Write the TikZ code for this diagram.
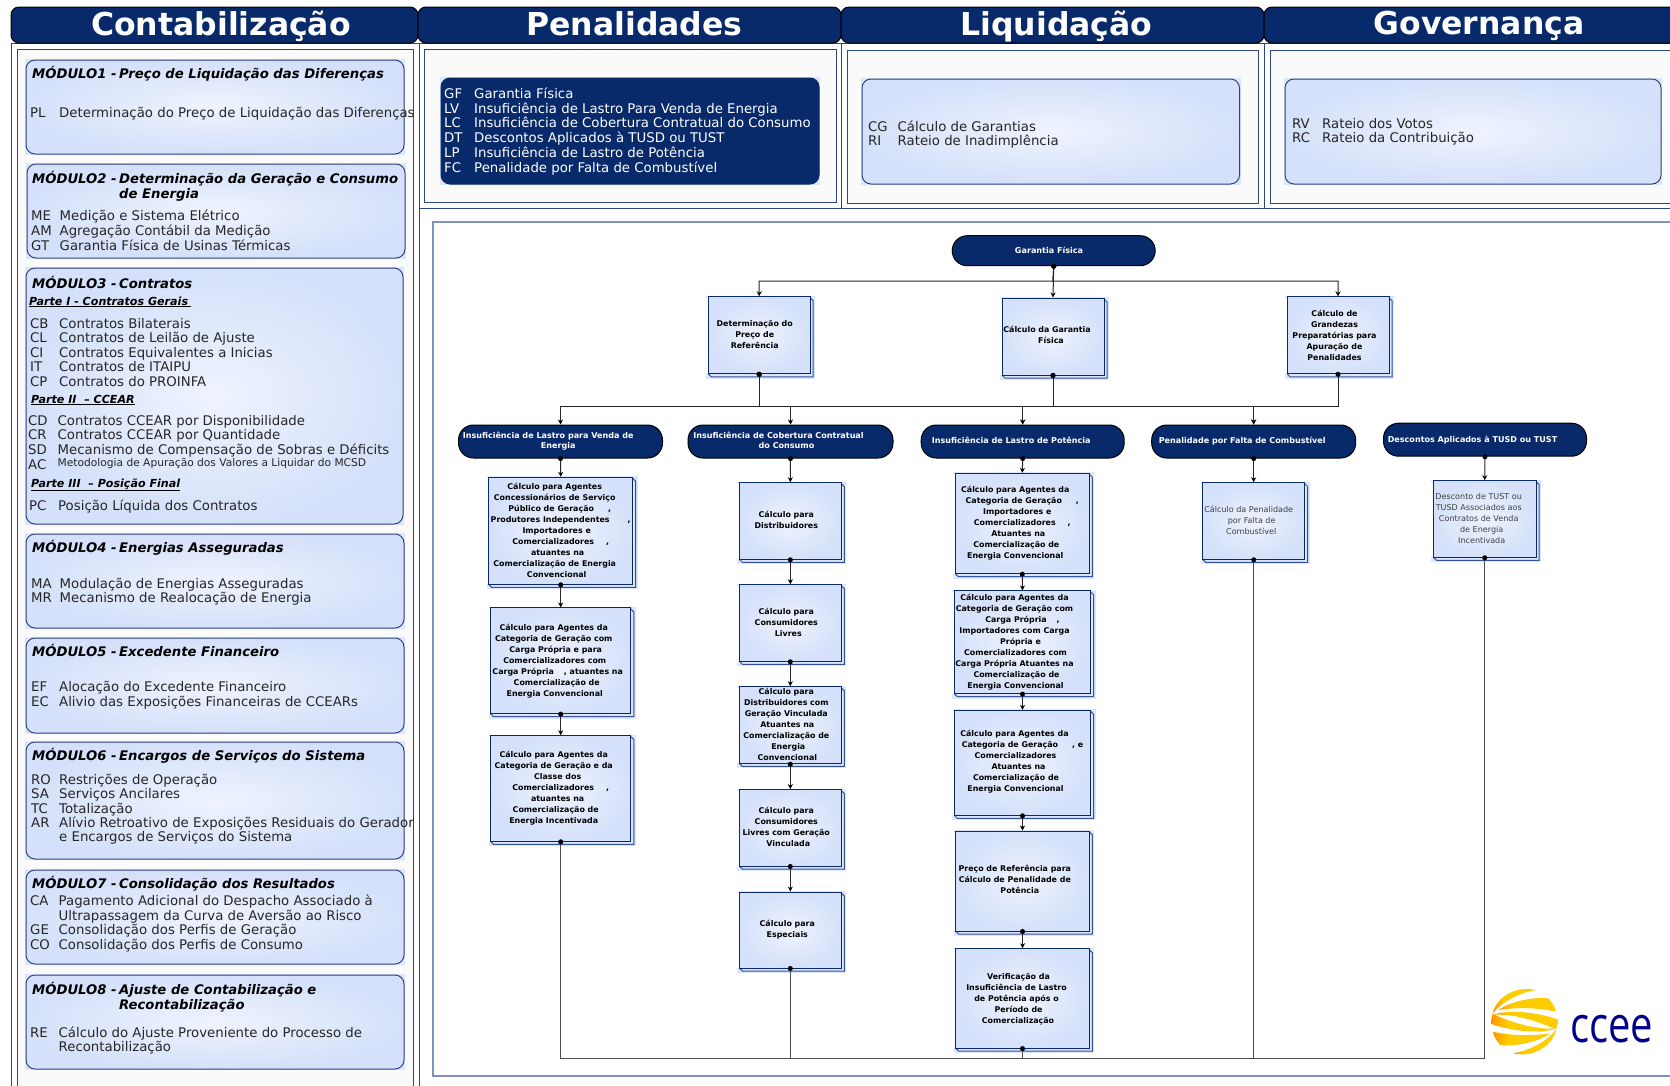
\documentclass[tikz,border=0pt]{standalone}
\usepackage{fontspec}
\setmainfont{DejaVu Sans}
\newfontfamily\logofont{Open Sans}
\usetikzlibrary{arrows.meta,calc}
\definecolor{navy}{HTML}{082A6B}
\definecolor{panelline}{HTML}{2C4583}
\definecolor{softline}{HTML}{7F93BE}
\definecolor{panelfill}{HTML}{FAFAFA}
\definecolor{shadein}{HTML}{EEF3FE}
\definecolor{shadeout}{HTML}{D5E1FA}
\definecolor{backfill}{HTML}{DCE6FB}
\definecolor{depthline}{HTML}{34529A}
\definecolor{logoyellow}{HTML}{FFCC00}
\definecolor{logoorange}{HTML}{FF9500}
\definecolor{logoblue}{HTML}{00008C}
\pgfdeclarehorizontalshading{logoshade}{100bp}{color(0bp)=(logoorange); color(25bp)=(logoorange); color(38bp)=(logoyellow); color(100bp)=(logoyellow)}
\newcounter{rowc}
\tikzset{
  outerpanel/.style={draw=panelline,line width=1pt,fill=white},
  innerpanel/.style={draw=panelline,line width=1pt,fill=panelfill},
  headbar/.style={draw=black,line width=1pt,fill=navy,rounded corners=8pt,inner sep=0pt,text=white,font=\fontsize{31.5}{33}\selectfont\bfseries},
  softcard/.style={draw=panelline,line width=1pt,rounded corners=9pt,shading=radial,inner color=shadein,outer color=shadeout,inner sep=0pt},
  darkcard/.style={draw=navy,line width=1pt,rounded corners=9pt,fill=navy,inner sep=0pt},
  modtext/.style={anchor=base west,inner sep=0pt,text=black!85,font=\fontsize{13.3}{14}\selectfont},
  modwhite/.style={modtext,text=white},
  modtitle/.style={anchor=base west,inner sep=0pt,text=black,font=\fontsize{13.2}{14}\selectfont\bfseries\itshape},
  parttitle/.style={anchor=base west,inner sep=0pt,text=black,font=\fontsize{11.1}{12}\selectfont\bfseries\itshape},
  smalltext/.style={anchor=base west,inner sep=0pt,text=black!85,font=\fontsize{10.65}{12}\selectfont},
  flowbox/.style={draw=navy,line width=1pt,shading=radial,inner color=shadein,outer color=shadeout,inner sep=0pt,text=black,font=\fontsize{7.9}{11}\selectfont\bfseries},
  flowplain/.style={font=\fontsize{8.05}{11}\selectfont,text=black!75},
  pill/.style={draw=black,line width=1pt,fill=navy,rounded corners=15pt,inner sep=0pt,text=white,font=\fontsize{8.05}{10}\selectfont\bfseries},
  boxback/.style={fill=backfill},
  boxdepth/.style={draw=depthline,line width=1pt},
  flow/.style={draw=black!85,line width=1pt,{Circle[length=5pt,width=5pt,black]}-{Stealth[length=5pt,width=5pt,black]},shorten <=-2.5pt},
  busline/.style={draw=black!70,line width=1pt,{Circle[length=5pt,width=5pt,black]}-,shorten <=-2.5pt},
}
\newcommand\TB[3]{\kern\dimexpr #1pt*2\relax\raisebox{\dimexpr #2pt-1pt\relax}[\height][\depth]{\begin{tabular}{@{}c@{}}#3\end{tabular}}}
\newcommand\G[1]{\hspace*{#1pt}}
\newcommand\FB[7]{%
  \pgfmathsetmacro\FBxa{#2-#4/2}\pgfmathsetmacro\FBxb{#2+#4/2}%
  \pgfmathsetmacro\FBya{#3-#5/2}\pgfmathsetmacro\FByb{#3+#5/2}%
  \fill[boxback] (\FBxa-2,\FBya-1) rectangle (\FBxb+5,\FBya+1);
  \fill[boxback] (\FBxb,\FBya) rectangle (\FBxb+5,\FByb+5);
  \fill[boxback] (\FBxa-2,\FByb) rectangle (\FBxb+5,\FByb+5);
  \draw[boxdepth] (\FBxb,\FBya+1) -- (\FBxb+3,\FBya+4) -- (\FBxb+3,\FByb+3) -- (\FBxa+3,\FByb+3) -- (\FBxa,\FByb);
  \node[flowbox,#6,minimum width=#4,minimum height=#5] (#1) at (#2,#3) {#7};
}
\newcommand\CardM[6][softcard]{%
  \fill[boxback] (#2-1,#3-1) rectangle (#4+1,#5+1);
  \pgfmathsetmacro\CMw{#4-#2}\pgfmathsetmacro\CMh{#5-#3}%
  \node[#1,minimum width=\CMw,minimum height=\CMh] (#6) at ({(#2+#4)/2},{(#3+#5)/2}) {};
}
\newcommand\RowT[6][modtext]{\stepcounter{rowc}\node[#1] (row\arabic{rowc}) at (#2,#3) {\makebox[#4pt][l]{#5}#6};}
\newcommand\TitleT[3]{\stepcounter{rowc}\node[modtitle] (row\arabic{rowc}) at (32,#1) {\makebox[87pt][l]{#2}#3};}
\newcommand\TitleL[2]{\stepcounter{rowc}\node[modtitle] (row\arabic{rowc}) at (119,#1) {#2};}
\newcommand\PartT[3]{\stepcounter{rowc}\node[parttitle] (row\arabic{rowc}) at (#1,#2) {\underline{#3}};}
\newcommand\LogoHalf{%
  \shade[shading=logoshade] (37,103) .. controls (45,60) and (90,28) .. (135,27) .. controls (148,27) and (158,28) .. (168,30) .. controls (110,40) and (60,70) .. (37,103) -- cycle;
  \shade[shading=logoshade] (55,90) .. controls (95,62) and (165,50) .. (205,55) .. controls (216,66) and (224,80) .. (228,95) .. controls (170,82) and (110,82) .. (55,90) -- cycle;
  \shade[shading=logoshade] (37,104) .. controls (90,88) and (170,96) .. (232,118) .. controls (233,128) and (232,138) .. (228,148) .. controls (160,118) and (100,102) .. (37,104) -- cycle;
}
\begin{document}
\begin{tikzpicture}[x=1pt,y=-1pt]
\useasboundingbox (0,0) rectangle (1670,1085);
\clip (0,0) rectangle (1670,1085);
\fill[white] (0,0) rectangle (1670,1085);
% panels
\path[outerpanel] (11,43) rectangle (419,1100);
\path[innerpanel] (17,49) rectangle (413,1100);
\path[outerpanel] (419,208) rectangle (1690,1100);
\path[draw=softline,line width=1.2pt,fill=white] (433,222) rectangle (1690,1076);
\path[outerpanel] (419,43) rectangle (841,208);
\path[innerpanel] (424,49) rectangle (836,202);
\path[outerpanel] (841,43) rectangle (1264,208);
\path[innerpanel] (847,50) rectangle (1258,203);
\path[outerpanel] (1264,43) rectangle (1690,208);
\path[innerpanel] (1270,50) rectangle (1690,203);
% headers
\node[headbar,minimum width=407,minimum height=36] (hc) at (214.5,25) {\TB{6.5}{-2}{Contabilização}};
\node[headbar,minimum width=423,minimum height=36] (hp) at (629.5,25) {\TB{5}{-2}{Penalidades}};
\node[headbar,minimum width=423,minimum height=36] (hl) at (1052.5,25) {\TB{4}{-2}{Liquidação}};
\node[headbar,minimum width=440,minimum height=36] (hg) at (1484,25) {\TB{-5}{-2}{Governança}};
% module cards
\CardM{26}{60}{404}{154}{m1}
\CardM{27}{164}{405}{258}{m2}
\CardM{26}{268}{403}{524}{m3}
\CardM{26}{534}{404}{628}{m4}
\CardM{26}{638}{404}{733}{m5}
\CardM{26}{742}{404}{859}{m6}
\CardM{26}{870}{404}{964}{m7}
\CardM{26}{975}{404}{1069}{m8}
% M1
\TitleT{78}{MÓDULO1 -}{Preço de Liquidação das Diferenças}
\RowT{30}{117}{29}{PL}{Determinação do Preço de Liquidação das Diferenças}
% M2
\TitleT{183}{MÓDULO2 -}{Determinação da Geração e Consumo}
\TitleL{198}{de Energia}
\RowT{31}{220}{28.5}{ME}{Medição e Sistema Elétrico}
\RowT{31}{235}{28.5}{AM}{Agregação Contábil da Medição}
\RowT{31}{250}{28.5}{GT}{Garantia Física de Usinas Térmicas}
% M3
\TitleT{288}{MÓDULO3 -}{Contratos}
\PartT{29}{305}{Parte I\ - Contratos Gerais\hspace{3pt}}
\RowT{30}{328}{29}{CB}{Contratos Bilaterais}
\RowT{30}{342}{29}{CL}{Contratos de Leilão de Ajuste}
\RowT{30}{357}{29}{CI}{Contratos Equivalentes a Inicias}
\RowT{30}{371}{29}{IT}{Contratos de ITAIPU}
\RowT{30}{386}{29}{CP}{Contratos do PROINFA}
\PartT{31}{403}{Parte II\ \ – CCEAR}
\RowT{28}{425}{29.5}{CD}{Contratos CCEAR por Disponibilidade}
\RowT{28}{439}{29.5}{CR}{Contratos CCEAR por Quantidade}
\RowT{28}{454}{29.5}{SD}{Mecanismo de Compensação de Sobras e Déficits}
\RowT{28}{469}{29.5}{AC}{}
\stepcounter{rowc}\node[smalltext] (row\arabic{rowc}) at (57.5,466) {Metodologia de Apuração dos Valores a Liquidar do MCSD};
\PartT{31}{487}{Parte III\ \ – Posição Final}
\RowT{29}{510}{29}{PC}{Posição Líquida dos Contratos}
% M4
\TitleT{552}{MÓDULO4 -}{Energias Asseguradas}
\RowT{31}{588.5}{28.5}{MA}{Modulação de Energias Asseguradas}
\RowT{31}{602.5}{28.5}{MR}{Mecanismo de Realocação de Energia}
% M5
\TitleT{656}{MÓDULO5 -}{Excedente Financeiro}
\RowT{31}{691}{28}{EF}{Alocação do Excedente Financeiro}
\RowT{31}{706}{28}{EC}{Alivio das Exposições Financeiras de CCEARs}
% M6
\TitleT{760}{MÓDULO6 -}{Encargos de Serviços do Sistema}
\RowT{31}{784}{28}{RO}{Restrições de Operação}
\RowT{31}{798}{28}{SA}{Serviços Ancilares}
\RowT{31}{813}{28}{TC}{Totalização}
\RowT{31}{827}{28}{AR}{Alívio Retroativo de Exposições Residuais do Gerador}
\RowT{31}{841}{28}{}{e Encargos de Serviços do Sistema}
% M7
\TitleT{888}{MÓDULO7 -}{Consolidação dos Resultados}
\RowT{30}{905}{28.5}{CA}{Pagamento Adicional do Despacho Associado à}
\RowT{30}{920}{28.5}{}{Ultrapassagem da Curva de Aversão ao Risco}
\RowT{30}{934}{28.5}{GE}{Consolidação dos Perfis de Geração}
\RowT{30}{949}{28.5}{CO}{Consolidação dos Perfis de Consumo}
% M8
\TitleT{994}{MÓDULO8 -}{Ajuste de Contabilização e}
\TitleL{1009}{Recontabilização}
\RowT{30}{1037}{28.5}{RE}{Cálculo do Ajuste Proveniente do Processo de}
\RowT{30}{1051}{28.5}{}{Recontabilização}
% top cards
\CardM[darkcard]{441}{78}{819}{184}{cpen}
\RowT[modwhite]{444}{98}{30}{GF}{Garantia Física}
\RowT[modwhite]{444}{113}{30}{LV}{Insuficiência de Lastro Para Venda de Energia}
\RowT[modwhite]{444}{127}{30}{LC}{Insuficiência de Cobertura Contratual do Consumo}
\RowT[modwhite]{444}{142}{30}{DT}{Descontos Aplicados à TUSD ou TUST}
\RowT[modwhite]{444}{157}{30}{LP}{Insuficiência de Lastro de Potência}
\RowT[modwhite]{444}{172}{30}{FC}{Penalidade por Falta de Combustível}
\CardM{862}{79}{1239.5}{184}{cliq}
\RowT{868}{131}{29.5}{CG}{Cálculo de Garantias}
\RowT{868}{145}{29.5}{RI}{Rateio de Inadimplência}
\CardM{1285}{79}{1661}{184}{cgov}
\RowT{1292}{128}{30}{RV}{Rateio dos Votos}
\RowT{1292}{142}{30}{RC}{Rateio da Contribuição}
% flow: top
\node[pill,minimum width=203,minimum height=30] (gf) at (1053.7,250.7) {\TB{-4.7}{0}{Garantia Física}};
\FB{t1}{759.2}{335.3}{102}{77}{}{\TB{-4.5}{1}{Determinação do\\Preço de\\Referência}}
\FB{t2}{1053}{336.5}{102}{77}{}{\TB{-6}{1.5}{Cálculo da Garantia\\\G{8}Física}}
\FB{t3}{1338}{335.3}{102}{77}{}{\TB{-3.5}{0.5}{Cálculo de\\Grandezas\\Preparatórias para\\Apuração de\\Penalidades}}
% pills
\node[pill,minimum width=204,minimum height=33] (p1) at (560.5,441.5) {\TB{-12.3}{1.3}{Insuficiência de Lastro para Venda de\\\G{20}Energia}};
\node[pill,minimum width=205,minimum height=33] (p2) at (790.5,441.5) {\TB{-12}{1.3}{Insuficiência de Cobertura Contratual\\\G{16}do Consumo}};
\node[pill,minimum width=203,minimum height=33] (p3) at (1022.7,441.5) {\TB{-11.5}{1.3}{Insuficiência de Lastro de Potência}};
\node[pill,minimum width=204,minimum height=33] (p4) at (1253.7,441.5) {\TB{-11.5}{1.3}{Penalidade por Falta de Combustível}};
\node[pill,minimum width=203,minimum height=33] (p5) at (1485,439.7) {\TB{-12.5}{0.6}{Descontos Aplicados à TUSD ou TUST}};
% column 1
\FB{b11}{560.7}{530.8}{144}{107}{}{\TB{-6}{1}{Cálculo para Agentes\\Concessionários de Serviço\\\G{10}Público de Geração\hspace{14pt},\\\G{12}Produtores Independentes\hspace{18pt},\\\G{4}Importadores e\\\G{12}Comercializadores\hspace{12pt},\\\G{6}atuantes na\\Comercialização de Energia\\\G{4}Convencional}}
\FB{b12}{560.7}{660.8}{140.4}{105.7}{}{\TB{-7}{0.8}{Cálculo para Agentes da\\Categoria de Geração com\\\G{4}Carga Própria e para\\\G{2}Comercializadores com\\\G{8}Carga Própria\hspace{10pt}, atuantes na\\\G{6}Comercialização de\\\G{2}Energia Convencional}}
\FB{b13}{560.7}{788.5}{140.4}{105.6}{}{\TB{-7}{1.5}{Cálculo para Agentes da\\Categoria de Geração e da\\\G{8}Classe dos\\\G{14}Comercializadores\hspace{12pt},\\\G{8}atuantes na\\\G{4}Comercialização de\\Energia Incentivada}}
% column 2
\FB{b21}{790.3}{521}{102}{76.6}{}{\TB{-4}{1.5}{Cálculo para\\Distribuidores}}
\FB{b22}{790.3}{623}{102}{76.6}{}{\TB{-4}{1}{Cálculo para\\Consumidores\\\G{4}Livres}}
\FB{b23}{790.3}{725.2}{102}{76.4}{}{\TB{-4}{1}{Cálculo para\\Distribuidores com\\Geração Vinculada\\\G{2}Atuantes na\\Comercialização de\\\G{4}Energia\\\G{2}Convencional}}
\FB{b24}{790.3}{827.8}{102}{76.4}{}{\TB{-4}{1}{Cálculo para\\Consumidores\\Livres com Geração\\\G{4}Vinculada}}
\FB{b25}{790.3}{930}{102}{76}{}{\TB{-3}{1}{Cálculo para\\Especiais}}
% column 3
\FB{b31}{1022.3}{523.5}{134}{100.4}{}{\TB{-7}{1.5}{Cálculo para Agentes da\\\G{14}Categoria de Geração\hspace{14pt},\\\G{4}Importadores e\\\G{14}Comercializadores\hspace{12pt},\\\G{6}Atuantes na\\\G{2}Comercialização de\\Energia Convencional}}
\FB{b32}{1022.5}{642.3}{136.4}{102.7}{}{\TB{-8}{1.3}{Cálculo para Agentes da\\Categoria de Geração com\\\G{16}Carga Própria\hspace{10pt},\\Importadores com Carga\\\G{12}Própria e\\\G{2}Comercializadores com\\Carga Própria Atuantes na\\\G{4}Comercialização de\\\G{2}Energia Convencional}}
\FB{b33}{1022.5}{762.8}{136.4}{105}{}{\TB{-8}{2.5}{Cálculo para Agentes da\\\G{16}Categoria de Geração\hspace{14pt}, e\\\G{2}Comercializadores\\\G{8}Atuantes na\\\G{3}Comercialização de\\\G{2}Energia Convencional}}
\FB{b34}{1022.5}{881}{133.6}{100}{}{\TB{-7.7}{1.5}{Preço de Referência para\\Cálculo de Penalidade de\\\G{10}Potência}}
\FB{b35}{1022.5}{998.4}{133.6}{99.4}{}{\TB{-6}{0}{\G{4}Verificação da\\Insuficiência de Lastro\\de Potência após o\\\G{4}Período de\\\G{3}Comercialização}}
% column 4, 5
\FB{b41}{1253.7}{521}{102}{76.6}{flowplain}{\TB{-5}{1}{Cálculo da Penalidade\\\G{6}por Falta de\\\G{5}Combustível}}
\FB{b51}{1484.7}{519}{102.7}{76.6}{flowplain}{\TB{-6}{1}{Desconto de TUST ou\\TUSD Associados aos\\Contratos de Venda\\\G{6}de Energia\\\G{6}Incentivada}}
% connectors
\coordinate (busa) at (1053,281);
\coordinate (busb) at (1053,406);
\coordinate (busc) at (1484.7,1058);
\draw[flow] (gf.south) -- (t2.north);
\draw[flow] (gf.south) -- (busa) -| (t1.north);
\draw[flow] (gf.south) -- (busa) -| (t3.north);
\draw[flow] (t1.south) -- (t1.south |- busb) -| (p1.north);
\draw[flow] (t1.south) -- (t1.south |- busb) -| (p2.north);
\draw[flow] (t1.south) -- (t1.south |- busb) -| (p3.north);
\draw[flow] (t2.south) -- (busb) -| (p3.north);
\draw[flow] (t2.south) -- (busb) -| (p4.north);
\draw[flow] (t3.south) -- (t3.south |- busb) -| (p4.north);
\draw[flow] (p1.south) -- (b11.north);
\draw[flow] (b11.south) -- (b12.north);
\draw[flow] (b12.south) -- (b13.north);
\draw[flow] (p2.south) -- (b21.north);
\draw[flow] (b21.south) -- (b22.north);
\draw[flow] (b22.south) -- (b23.north);
\draw[flow] (b23.south) -- (b24.north);
\draw[flow] (b24.south) -- (b25.north);
\draw[flow] (p3.south) -- (b31.north);
\draw[flow] (b31.south) -- (b32.north);
\draw[flow] (b32.south) -- (b33.north);
\draw[flow] (b33.south) -- (b34.north);
\draw[flow] (b34.south) -- (b35.north);
\draw[flow] (p4.south) -- (b41.north);
\draw[flow] (p5.south) -- (b51.north);
\draw[busline] (b13.south) |- (busc);
\draw[busline] (b25.south) -- (b25.south |- busc);
\draw[busline] (b35.south) -- (b35.south |- busc);
\draw[busline] (b41.south) -- (b41.south |- busc);
\draw[busline] (b51.south) -- (busc);
% logo
\begin{scope}[shift={(1480,980)},x=0.3333pt,y=-0.3333pt]
\LogoHalf
\begin{scope}[rotate around={180:(133,125)}]
\LogoHalf
\end{scope}
\end{scope}
\node[anchor=base west,inner sep=0pt,text=logoblue,xscale=0.8,font=\logofont\fontsize{50}{50}\selectfont] (logotext) at (1570,1042) {ccee};
\end{tikzpicture}
\end{document}
